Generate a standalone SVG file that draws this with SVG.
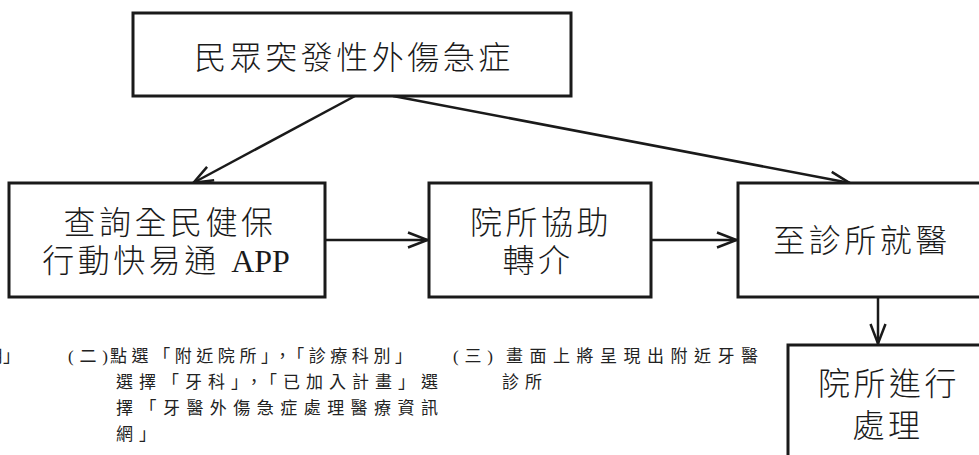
<svg xmlns="http://www.w3.org/2000/svg" width="979" height="455" viewBox="0 0 979 455">
<style>
.box{fill:#fff;stroke:#1a1a1a;stroke-width:3}
.big{font-family:"Liberation Serif","Noto Sans CJK TC",serif;font-size:32px;font-weight:300;fill:#1a1a1a;text-anchor:middle;letter-spacing:3.5px}
.small{font-family:"Liberation Serif","Noto Sans CJK TC",serif;font-size:17px;font-weight:400;fill:#222}
.par{font-family:"Liberation Serif","Noto Sans CJK TC",serif;font-size:17px;fill:#222}
.ln{fill:none;stroke:#1a1a1a;stroke-width:2.5;marker-end:url(#arr)}
</style>
<defs>
<marker id="arr" viewBox="0 0 22 18" refX="21" refY="9" markerWidth="22" markerHeight="18" markerUnits="userSpaceOnUse" orient="auto">
<path d="M1,1.5 L20.5,9 L1,16.5" fill="none" stroke="#1a1a1a" stroke-width="2.5"/>
</marker>
</defs>
<rect width="979" height="455" fill="#fff"/>
<g id="connectors">
<line class="ln" x1="355" y1="96" x2="193" y2="183"/>
<line class="ln" x1="393" y1="96" x2="850" y2="183"/>
<line class="ln" x1="325" y1="240" x2="428" y2="240"/>
<line class="ln" x1="651" y1="240" x2="737" y2="240"/>
<line class="ln" x1="878" y1="297" x2="878" y2="344"/>
</g>
<g id="n-top">
<rect class="box" x="133" y="13" width="438" height="83"/>
<text class="big" x="354" y="69">民眾突發性外傷急症</text>
</g>
<g id="n-app">
<rect class="box" x="9" y="183" width="316" height="114"/>
<text class="big" x="170" y="234">查詢全民健保</text>
<text class="big" x="166" y="272">行動快易通 <tspan letter-spacing="0">APP</tspan></text>
</g>
<g id="n-refer">
<rect class="box" x="429" y="183" width="222" height="114"/>
<text class="big" x="541" y="234">院所協助</text>
<text class="big" x="538" y="272">轉介</text>
</g>
<g id="n-clinic">
<rect class="box" x="738" y="183" width="260" height="114"/>
<text class="big" x="862" y="252">至診所就醫</text>
</g>
<g id="n-treat">
<rect class="box" x="788" y="345" width="210" height="130"/>
<text class="big" x="889" y="395">院所進行</text>
<text class="big" x="888" y="437">處理</text>
</g>
<g id="notes">
<text class="small" x="20" y="362" text-anchor="end">用」</text>
<text class="par" x="68" y="362" textLength="40" lengthAdjust="spacing">(二)</text>
<text class="small" x="110" y="362" textLength="302" lengthAdjust="spacing">點選「附近院所」，「診療科別」</text>
<text class="small" x="116" y="388" textLength="322" lengthAdjust="spacing">選擇「牙科」，「已加入計畫」選</text>
<text class="small" x="116" y="414" textLength="322" lengthAdjust="spacing">擇「牙醫外傷急症處理醫療資訊</text>
<text class="small" x="116" y="440" textLength="40" lengthAdjust="spacing">網」</text>
<text class="par" x="453" y="362" textLength="40" lengthAdjust="spacing">(三)</text>
<text class="small" x="506" y="362" textLength="252" lengthAdjust="spacing">畫面上將呈現出附近牙醫</text>
<text class="small" x="502" y="388" textLength="40" lengthAdjust="spacing">診所</text>
</g>
</svg>
